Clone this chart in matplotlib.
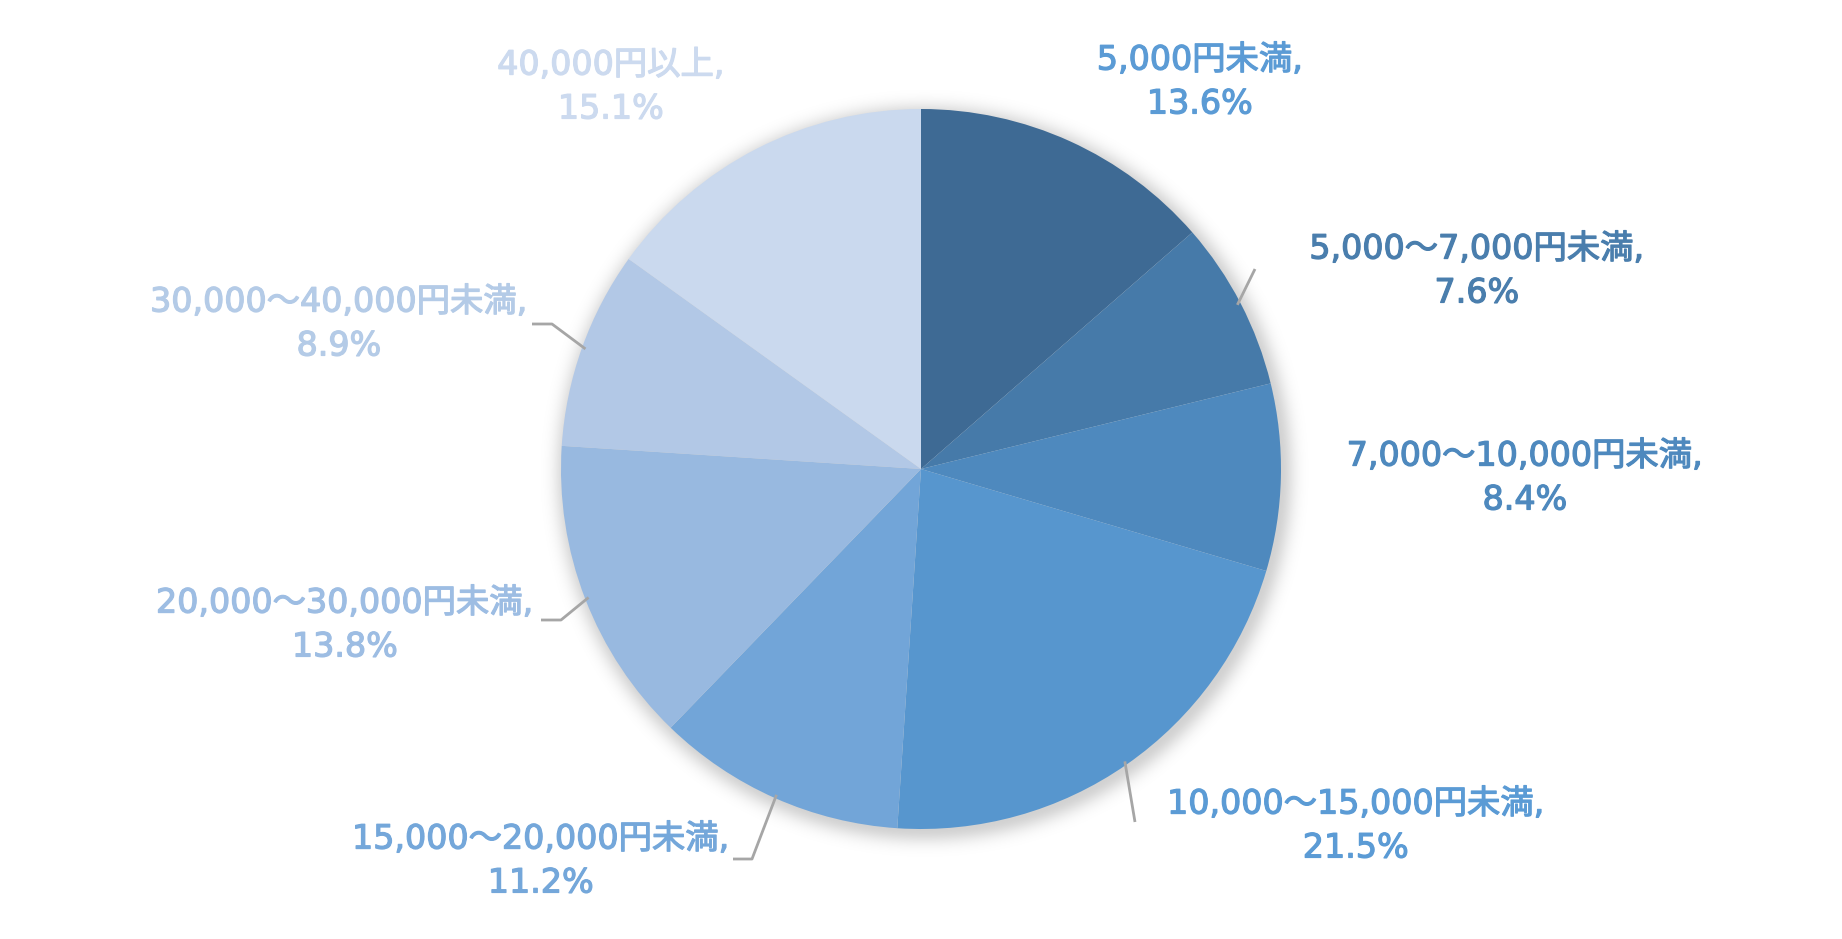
import numpy as np
import matplotlib.pyplot as plt
import matplotlib.patheffects as pe

plt.rcParams['font.family'] = ['DejaVu Sans', 'Noto Sans CJK JP']

categories = ['5,000円未満', '5,000～7,000円未満', '7,000～10,000円未満',
              '10,000～15,000円未満', '15,000～20,000円未満',
              '20,000～30,000円未満', '30,000～40,000円未満', '40,000円以上']
shares = [13.6, 7.6, 8.4, 21.5, 11.2, 13.8, 8.9, 15.1]
wedge_colors = ['#3E6A94', '#467AA9', '#4E89BE', '#5796CE',
                '#72A5D8', '#98B9E0', '#B2C8E6', '#CAD9EE']
text_colors = ['#5B9BD5', '#4A7EAD', '#4E89BE', '#5B9BD5',
               '#74A7DA', '#9DBDE3', '#B4CBE7', '#CCDAEF']

# label centres in pixels (figure is 1842x939, pie centre 921,469 radius 360)
label_px = [(1200, 82), (1477, 271), (1525, 478), (1356, 826),
            (541, 861), (345, 625), (339, 324), (611, 87)]
# leader line ends (pixel), None = no line
leader_px = [None, [(1255, 269)], None, [(1135, 822)],
             [(752, 859), (733, 859)], [(561, 620), (541, 620)],
             [(552, 324), (532, 324)], None]

W, H = 1842, 939
cx, cy, R = 921, 469, 360


def to_data(px, py):
    return (px - cx) / R, (cy - py) / R


fig = plt.figure(figsize=(W / 100, H / 100), dpi=100)
ax = fig.add_axes([0, 0, 1, 1])

wedges, _ = ax.pie(shares, colors=wedge_colors, startangle=90, counterclock=False,
                   radius=1.0, wedgeprops=dict(linewidth=0))
for w in wedges:
    w.set_zorder(2)

# soft shadow under the pie
xs = np.linspace(-cx / R, (W - cx) / R, 700)
ys = np.linspace(-(H - cy) / R, cy / R, 360)
X, Y = np.meshgrid(xs, ys)
d = np.hypot(X - 0.01, Y + 0.012)
alpha = np.clip(0.18 * np.exp(-((d - 0.99) / 0.04) ** 2), 0, 1)
alpha[d < 0.99] = 0.18
shadow = np.zeros(X.shape + (4,))
shadow[..., 3] = alpha
ax.imshow(shadow, extent=(xs[0], xs[-1], ys[0], ys[-1]), origin='lower',
          zorder=0, interpolation='bilinear', aspect='equal')

ax.set_xlim(-cx / R, (W - cx) / R)
ax.set_ylim(-(H - cy) / R, cy / R)
ax.axis('off')

total = sum(shares)
cum = 0
for i, (cat, v) in enumerate(zip(categories, shares)):
    mid = 90 - 360 * (cum + v / 2) / total
    cum += v
    tx, ty = to_data(*label_px[i])
    ax.text(tx, ty, f'{cat},\n{v:.1f}%', ha='center', va='center',
            fontsize=24, color=text_colors[i], linespacing=1.42, zorder=3,
            path_effects=[pe.withStroke(linewidth=0.9, foreground=text_colors[i])])
    if leader_px[i] is not None:
        pts = [(np.cos(np.radians(mid)) * 0.99, np.sin(np.radians(mid)) * 0.99)]
        pts += [to_data(*p) for p in leader_px[i]]
        lx, ly = zip(*pts)
        ax.plot(lx, ly, color='#A6A6A6', lw=2, zorder=3, solid_capstyle='butt')

fig.savefig('out.png', dpi=100, facecolor='white')
